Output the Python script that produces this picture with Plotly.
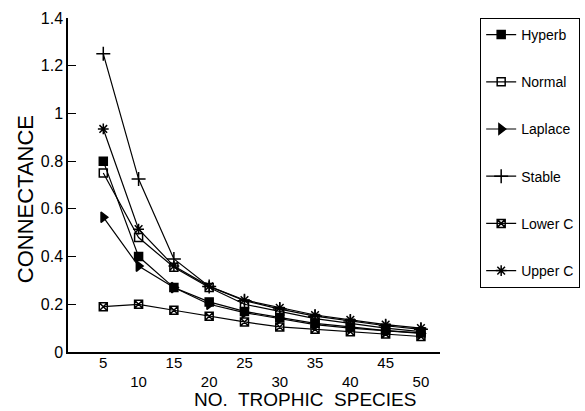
import plotly.graph_objects as go

species = [5, 10, 15, 20, 25, 30, 35, 40, 45, 50]
hyperb  = [0.80, 0.40, 0.27, 0.21, 0.170, 0.145, 0.120, 0.105, 0.090, 0.080]
normal  = [0.75, 0.48, 0.355, 0.27, 0.200, 0.170, 0.140, 0.120, 0.100, 0.085]
laplace = [0.565, 0.36, 0.27, 0.20, 0.165, 0.140, 0.115, 0.100, 0.088, 0.078]
stable  = [1.25, 0.725, 0.39, 0.275, 0.215, 0.180, 0.150, 0.130, 0.110, 0.095]
lower_c = [0.19, 0.20, 0.175, 0.15, 0.126, 0.105, 0.095, 0.085, 0.075, 0.065]
upper_c = [0.935, 0.515, 0.36, 0.275, 0.218, 0.185, 0.155, 0.135, 0.115, 0.100]

names = ["Hyperb", "Normal", "Laplace", "Stable", "Lower C", "Upper C"]
values = [hyperb, normal, laplace, stable, lower_c, upper_c]
symbols = ["square", "square-open", "triangle-right", "cross-thin-open",
           "square-x-open", "asterisk-open"]
sizes = [8, 8, 9, 10, 8, 9]

y_ticks = [0, 0.2, 0.4, 0.6, 0.8, 1.0, 1.2, 1.4]
tick_vals = species
tick_text = [str(v) if i % 2 == 0 else "<br>" + str(v) for i, v in enumerate(species)]

FONT = "Liberation Sans, Arial, Helvetica, sans-serif"

fig = go.Figure()
for n, v, s, sz in zip(names, values, symbols, sizes):
    fig.add_trace(go.Scatter(
        x=species, y=v, name=n, mode="lines+markers",
        line=dict(color="black", width=1.2),
        marker=dict(symbol=s, size=sz, color="black",
                    line=dict(color="black", width=1.5)),
        legendgroup=n,
    ))

fig.update_layout(
    template="none",
    width=585, height=411,
    margin=dict(l=68, r=145, t=18, b=59, autoexpand=False),
    paper_bgcolor="white", plot_bgcolor="white",
    font=dict(family=FONT, color="black", size=16),
    showlegend=True,
    legend=dict(
        x=1.108, xanchor="left", y=1.0, yanchor="top",
        bordercolor="black", borderwidth=1, bgcolor="white",
        font=dict(size=14), traceorder="grouped", tracegroupgap=26,
        itemwidth=30,
    ),
    xaxis=dict(
        range=[0, 52.7], tickvals=tick_vals, ticktext=tick_text,
        showgrid=False, zeroline=False, showline=True, linecolor="black",
        linewidth=1.5, ticks="", tickfont=dict(size=15), automargin=False,
        ticklabelstandoff=-4,
    ),
    yaxis=dict(
        range=[0, 1.4], tickvals=y_ticks,
        showgrid=False, zeroline=False, showline=True, linecolor="black",
        linewidth=1.5, ticks="inside", ticklen=8, tickcolor="black",
        tickfont=dict(size=16), automargin=False,
    ),
    annotations=[
        dict(text="NO.  TROPHIC  SPECIES", xref="paper", yref="paper",
             x=0.637, y=-0.143, xanchor="center", yanchor="middle",
             showarrow=False, font=dict(size=19)),
        dict(text="CONNECTANCE", xref="paper", yref="paper",
             x=-0.115, y=0.458, xanchor="center", yanchor="middle",
             textangle=-90, showarrow=False, font=dict(size=22)),
    ],
)

fig.write_html(
    "out.html",
    config={"displayModeBar": False},
    post_script="document.body.style.margin='0';document.body.style.overflow='hidden';",
)
